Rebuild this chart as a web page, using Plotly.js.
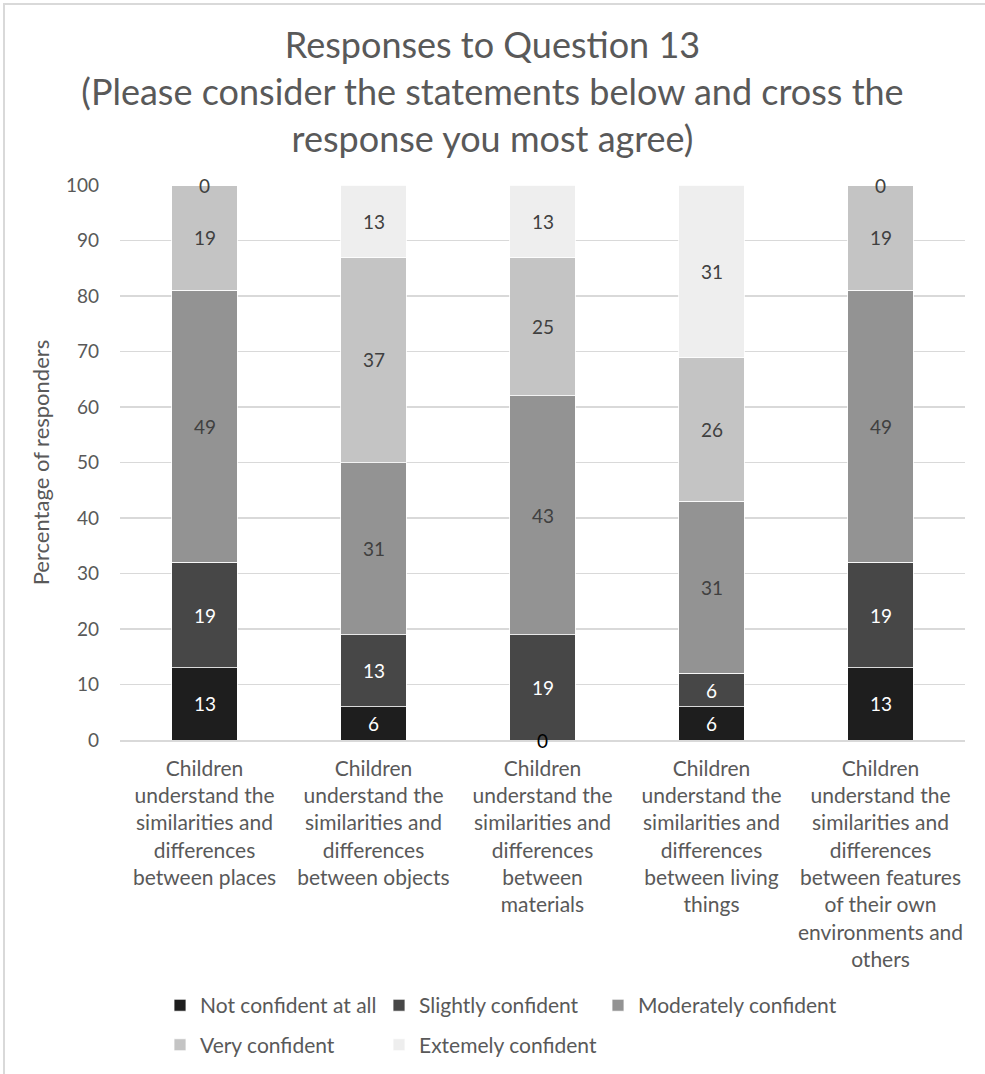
<!DOCTYPE html>
<html>
<head>
<meta charset="utf-8">
<script src="https://cdn.plot.ly/plotly-3.0.1.min.js"></script>
<style>
  html, body { margin: 0; padding: 0; background: #fff; }
  #chart { position: absolute; left: 0; top: 0; width: 985px; height: 1074px; }
  #frame { position: absolute; left: 3px; top: 3px; width: 990px; height: 1080px;
           border-left: 2px solid #d9d9d9; border-top: 2px solid #d9d9d9; pointer-events: none; }
</style>
</head>
<body>
<div id="chart"></div>
<div id="frame"></div>
<script>
// Survey statements (one stacked bar each)
const categories = ['places', 'objects', 'materials', 'living things', 'features'];
const tickLabels = [
  'Children<br>understand the<br>similarities and<br>differences<br>between places',
  'Children<br>understand the<br>similarities and<br>differences<br>between objects',
  'Children<br>understand the<br>similarities and<br>differences<br>between<br>materials',
  'Children<br>understand the<br>similarities and<br>differences<br>between living<br>things',
  'Children<br>understand the<br>similarities and<br>differences<br>between features<br>of their own<br>environments and<br>others'
];

// Percentage of responders per confidence level
const notConfident      = [13, 6, 0, 6, 13];
const slightlyConfident = [19, 13, 19, 6, 19];
const moderatelyConf    = [49, 31, 43, 31, 49];
const veryConfident     = [19, 37, 25, 26, 19];
const extremelyConf     = [0, 13, 13, 31, 0];

const seriesNames  = ['Not confident at all', 'Slightly confident', 'Moderately confident', 'Very confident', 'Extemely confident'];
const seriesValues = [notConfident, slightlyConfident, moderatelyConf, veryConfident, extremelyConf];
const seriesColors = ['#1e1e1e', '#474747', '#939393', '#c4c4c4', '#eeeeee'];
const labelColors  = ['#ffffff', '#ffffff', '#404040', '#404040', '#404040'];
// legend slot for each series: two rows, three columns
const legendSlots  = ['legend', 'legend', 'legend3', 'legend2', 'legend2'];

const FONT = 'Lato, "Open Sans", sans-serif';
const GREY = '#595959';

const traces = seriesValues.map((vals, i) => ({
  type: 'bar',
  name: seriesNames[i],
  x: categories,
  y: vals,
  marker: { color: seriesColors[i], line: { color: '#ffffff', width: 0.8 } },
  legend: legendSlots[i],
  hoverinfo: 'skip'
}));

// Value labels centred on each segment (stack position derived from the data)
const annotations = [];
categories.forEach((cat, j) => {
  let base = 0;
  seriesValues.forEach((vals, i) => {
    const v = vals[j];
    annotations.push({
      x: cat, y: base + v / 2, xref: 'x', yref: 'y',
      text: String(v), showarrow: false,
      font: { family: FONT, size: 19, color: v === 0 ? (i === 0 ? '#000000' : '#404040') : labelColors[i] }
    });
    base += v;
  });
});

const PLOT_L = 120, PLOT_W = 845;
const legendCommon = {
  orientation: 'h', xanchor: 'left', yanchor: 'top',
  x: (160 - PLOT_L) / PLOT_W,
  font: { family: FONT, size: 21, color: GREY },
  entrywidth: 174, entrywidthmode: 'pixels', itemwidth: 30,
  bgcolor: 'rgba(0,0,0,0)', traceorder: 'normal'
};

const layout = {
  width: 985, height: 1074,
  margin: { l: PLOT_L, r: 20, t: 185, b: 334, autoexpand: false },
  paper_bgcolor: '#ffffff', plot_bgcolor: '#ffffff',
  barmode: 'stack', bargap: 0.61,
  font: { family: FONT, color: GREY },
  title: {
    text: 'Responses to Question 13<br>(Please consider the statements below and cross the<br>response you most agree)',
    font: { family: FONT, size: 36, color: GREY },
    x: 0.5, xanchor: 'center', xref: 'container',
    yref: 'container', yanchor: 'middle', y: 1 - 58 / 1074
  },
  xaxis: {
    type: 'category', tickvals: categories, ticktext: tickLabels,
    tickfont: { family: FONT, size: 21, color: GREY },
    showgrid: false, showline: true, linecolor: '#d9d9d9', linewidth: 1.5,
    ticks: '', ticklabelstandoff: 9, fixedrange: true
  },
  yaxis: {
    range: [0, 100], dtick: 10, tickfont: { family: FONT, size: 19, color: GREY },
    showgrid: true, gridcolor: '#d9d9d9', gridwidth: 1.3,
    zeroline: false, showline: false, ticks: '', ticklabelstandoff: 20,
    title: { text: 'Percentage of responders', font: { family: FONT, size: 22, color: GREY }, standoff: 10 },
    fixedrange: true
  },
  legend: Object.assign({}, legendCommon, { y: -0.4416 }),
  legend2: Object.assign({}, legendCommon, { y: -0.5128 }),
  legend3: Object.assign({}, legendCommon, { y: -0.4416, x: (160 + 438 - PLOT_L) / PLOT_W, entrywidth: 230 }),
  annotations: annotations,
  showlegend: true
};

Plotly.newPlot('chart', traces, layout, { displayModeBar: false, staticPlot: true });
</script>
</body>
</html>
